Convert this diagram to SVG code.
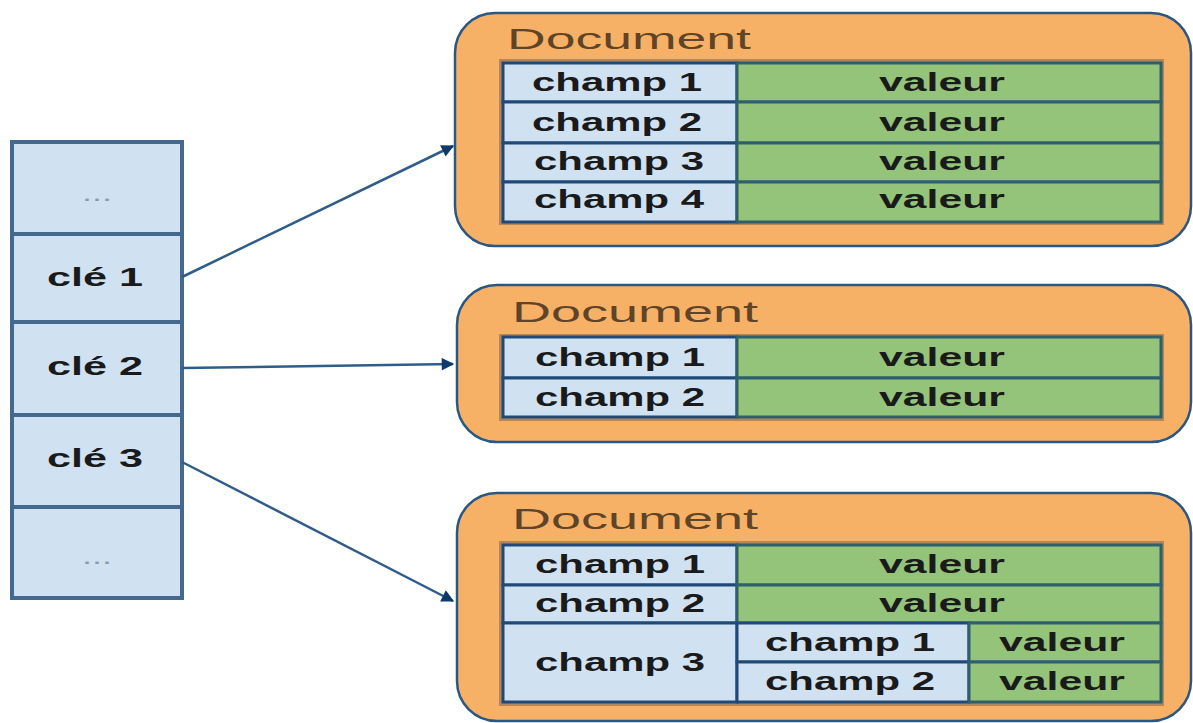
<svg xmlns="http://www.w3.org/2000/svg" width="1193" height="723" viewBox="0 0 1193 723">
<defs>
<marker id="ah" viewBox="0 0 10 10" refX="9" refY="5" markerWidth="6" markerHeight="5" orient="auto" markerUnits="strokeWidth">
<path d="M0,0 L10,5 L0,10 z" fill="#0d3a6a"/>
</marker>
</defs>
<style>
.doc{fill:#f6b166;stroke:#2b5783;stroke-width:2.5}
.key{fill:#d0e1f2;stroke:#43698f;stroke-width:4}
.fld{fill:#d0e1f2;stroke:#1f4a78;stroke-width:3}
.val{fill:#93c47a;stroke:#2f5f6a;stroke-width:3}
.shadow{fill:#b5865a}
.title{font-family:"Liberation Sans",Arial,sans-serif;font-size:29px;fill:#5e4428}
.t{font-family:"Liberation Sans",Arial,sans-serif;font-size:25px;font-weight:bold;fill:#1a1a1a;text-anchor:middle}
.dots{font-family:"Liberation Sans",Arial,sans-serif;font-size:22px;fill:#8a9aa8;text-anchor:middle}
.conn{stroke:#2f5d8a;stroke-width:2.5;fill:none;marker-end:url(#ah)}
</style>
<rect width="1193" height="723" fill="#ffffff"/>

<g id="key-column">
<rect class="key" x="12" y="142" width="170" height="92"/>
<rect class="key" x="12" y="234" width="170" height="88"/>
<rect class="key" x="12" y="322" width="170" height="93"/>
<rect class="key" x="12" y="415" width="170" height="92"/>
<rect class="key" x="12" y="507" width="170" height="91"/>
<text class="dots" x="97" y="201" textLength="30" lengthAdjust="spacingAndGlyphs">...</text>
<text class="t" x="95" y="286" textLength="96" lengthAdjust="spacingAndGlyphs">clé 1</text>
<text class="t" x="95" y="375" textLength="96" lengthAdjust="spacingAndGlyphs">clé 2</text>
<text class="t" x="95" y="467" textLength="96" lengthAdjust="spacingAndGlyphs">clé 3</text>
<text class="dots" x="97" y="564" textLength="30" lengthAdjust="spacingAndGlyphs">...</text>
</g>

<g id="connectors">
<line class="conn" x1="182" y1="277" x2="453" y2="146"/>
<line class="conn" x1="182" y1="368" x2="453" y2="364"/>
<line class="conn" x1="182" y1="462" x2="453" y2="601"/>
</g>

<g id="doc1">
<rect class="doc" x="455" y="13" width="736" height="233" rx="40" ry="40"/>
<text class="title" x="507" y="49" textLength="244" lengthAdjust="spacingAndGlyphs">Document</text>
<rect class="shadow" x="499" y="59" width="665" height="166"/>
<rect class="fld" x="503" y="63" width="234" height="39"/>
<rect class="fld" x="503" y="102" width="234" height="41"/>
<rect class="fld" x="503" y="143" width="234" height="39"/>
<rect class="fld" x="503" y="182" width="234" height="40"/>
<rect class="val" x="737" y="63" width="424" height="39"/>
<rect class="val" x="737" y="102" width="424" height="41"/>
<rect class="val" x="737" y="143" width="424" height="39"/>
<rect class="val" x="737" y="182" width="424" height="40"/>
<text class="t" x="617" y="91" textLength="170" lengthAdjust="spacingAndGlyphs">champ 1</text>
<text class="t" x="617" y="131" textLength="170" lengthAdjust="spacingAndGlyphs">champ 2</text>
<text class="t" x="619" y="170" textLength="170" lengthAdjust="spacingAndGlyphs">champ 3</text>
<text class="t" x="619" y="208" textLength="170" lengthAdjust="spacingAndGlyphs">champ 4</text>
<text class="t" x="942" y="91" textLength="126" lengthAdjust="spacingAndGlyphs">valeur</text>
<text class="t" x="942" y="131" textLength="126" lengthAdjust="spacingAndGlyphs">valeur</text>
<text class="t" x="942" y="170" textLength="126" lengthAdjust="spacingAndGlyphs">valeur</text>
<text class="t" x="942" y="208" textLength="126" lengthAdjust="spacingAndGlyphs">valeur</text>
</g>

<g id="doc2">
<rect class="doc" x="457" y="285" width="734" height="157" rx="40" ry="40"/>
<text class="title" x="512" y="322" textLength="246" lengthAdjust="spacingAndGlyphs">Document</text>
<rect class="shadow" x="499" y="334" width="665" height="87"/>
<rect class="fld" x="503" y="337" width="234" height="41"/>
<rect class="fld" x="503" y="378" width="234" height="39"/>
<rect class="val" x="737" y="337" width="424" height="41"/>
<rect class="val" x="737" y="378" width="424" height="39"/>
<text class="t" x="620" y="366" textLength="170" lengthAdjust="spacingAndGlyphs">champ 1</text>
<text class="t" x="620" y="406" textLength="170" lengthAdjust="spacingAndGlyphs">champ 2</text>
<text class="t" x="942" y="366" textLength="126" lengthAdjust="spacingAndGlyphs">valeur</text>
<text class="t" x="942" y="406" textLength="126" lengthAdjust="spacingAndGlyphs">valeur</text>
</g>

<g id="doc3">
<rect class="doc" x="457" y="493" width="734" height="228" rx="40" ry="40"/>
<text class="title" x="512" y="529" textLength="246" lengthAdjust="spacingAndGlyphs">Document</text>
<rect class="shadow" x="499" y="541" width="665" height="165"/>
<rect class="fld" x="503" y="545" width="234" height="40"/>
<rect class="fld" x="503" y="585" width="234" height="38"/>
<rect class="fld" x="503" y="623" width="234" height="79"/>
<rect class="val" x="737" y="545" width="424" height="40"/>
<rect class="val" x="737" y="585" width="424" height="38"/>
<rect class="fld" x="737" y="623" width="232" height="39"/>
<rect class="fld" x="737" y="662" width="232" height="40"/>
<rect class="val" x="969" y="623" width="192" height="39"/>
<rect class="val" x="969" y="662" width="192" height="40"/>
<text class="t" x="620" y="573" textLength="170" lengthAdjust="spacingAndGlyphs">champ 1</text>
<text class="t" x="620" y="612" textLength="170" lengthAdjust="spacingAndGlyphs">champ 2</text>
<text class="t" x="620" y="671" textLength="170" lengthAdjust="spacingAndGlyphs">champ 3</text>
<text class="t" x="942" y="573" textLength="126" lengthAdjust="spacingAndGlyphs">valeur</text>
<text class="t" x="942" y="612" textLength="126" lengthAdjust="spacingAndGlyphs">valeur</text>
<text class="t" x="850" y="651" textLength="170" lengthAdjust="spacingAndGlyphs">champ 1</text>
<text class="t" x="850" y="690" textLength="170" lengthAdjust="spacingAndGlyphs">champ 2</text>
<text class="t" x="1062" y="651" textLength="126" lengthAdjust="spacingAndGlyphs">valeur</text>
<text class="t" x="1062" y="690" textLength="126" lengthAdjust="spacingAndGlyphs">valeur</text>
</g>
</svg>
